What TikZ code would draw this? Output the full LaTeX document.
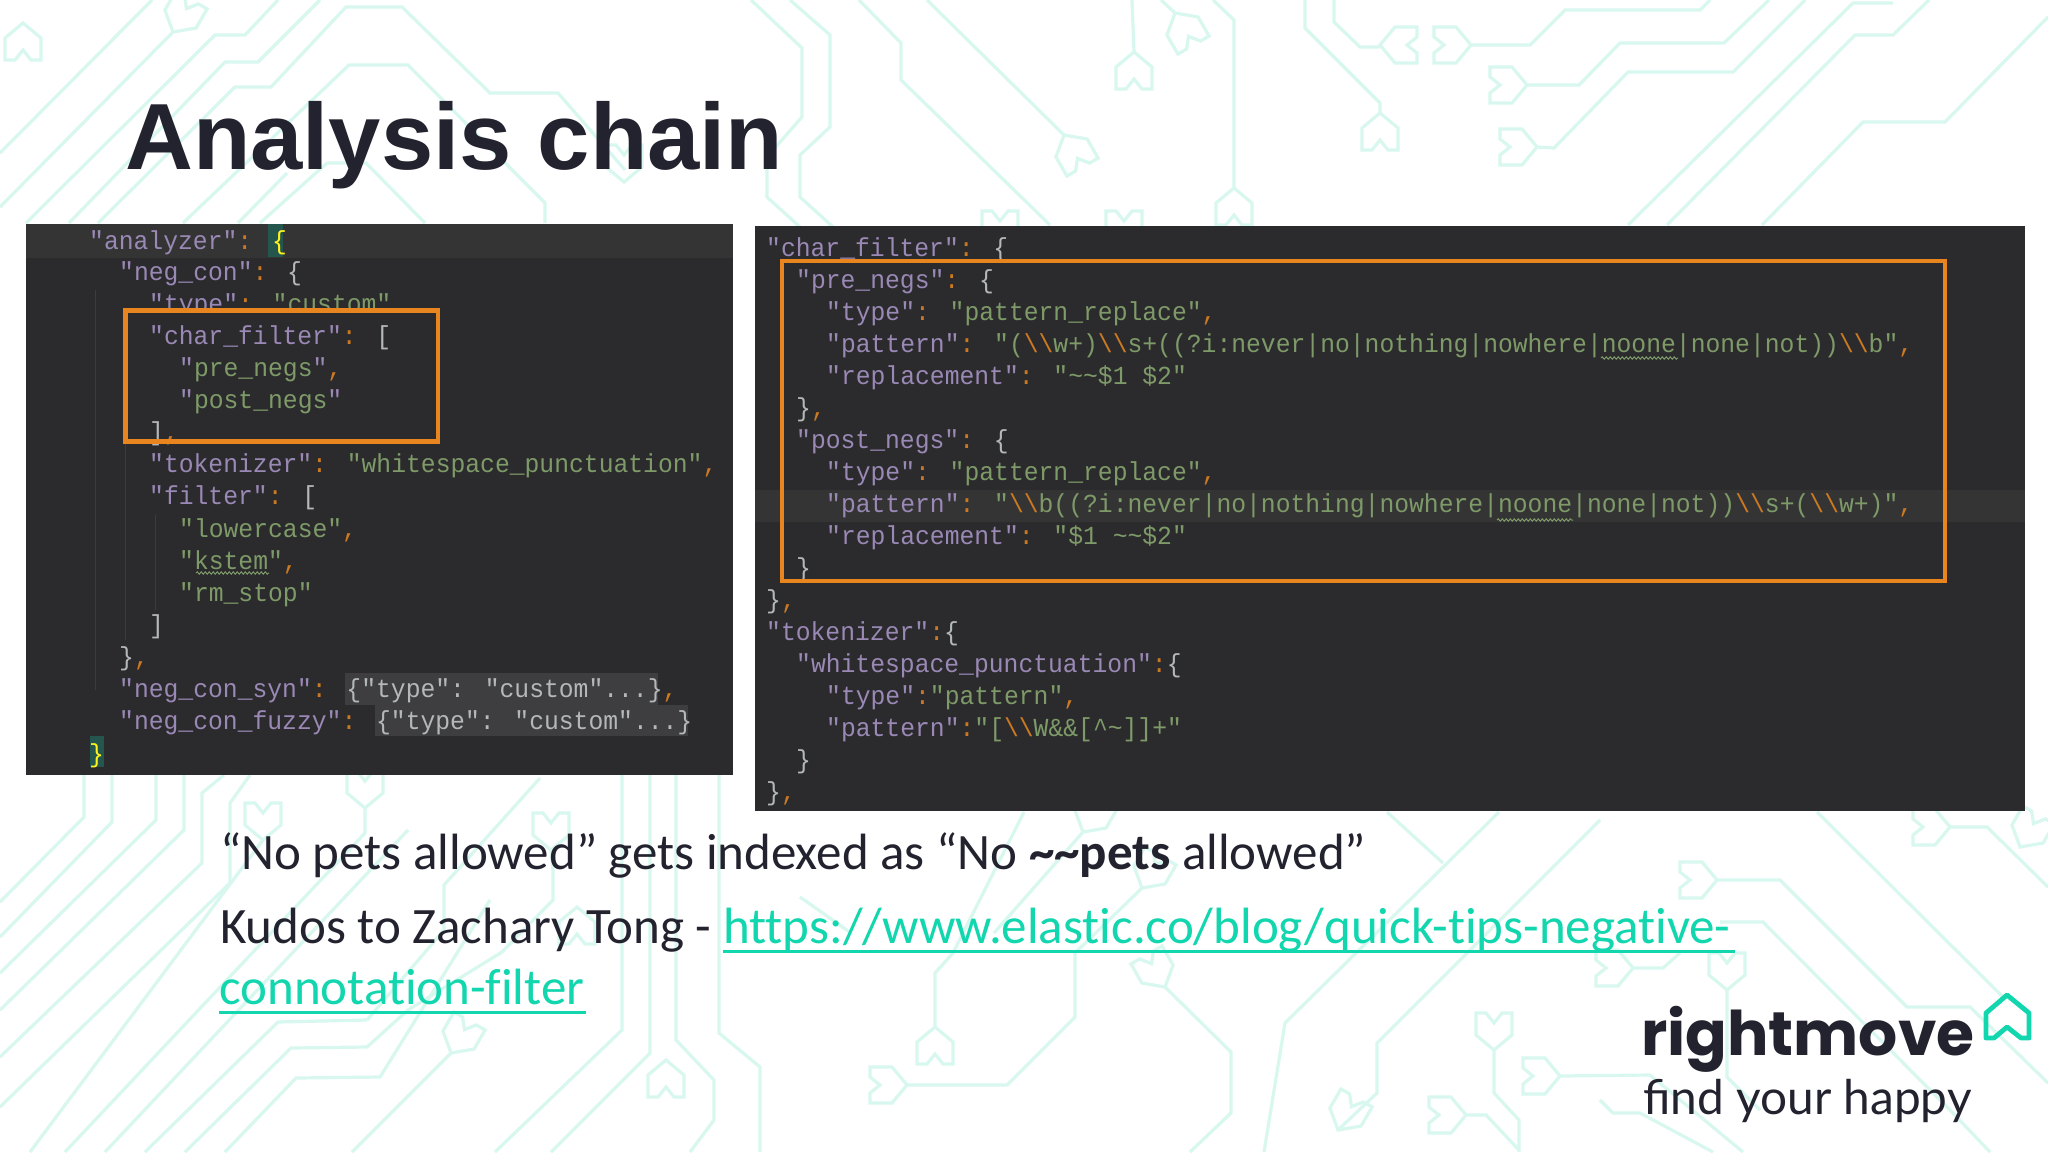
\documentclass[tikz,border=0pt]{standalone}
\usepackage{fontspec}
\usetikzlibrary{decorations.pathmorphing}
\setmainfont[Ligatures=NoCommon]{Carlito}
\newfontfamily\titlef{Liberation Sans}
\newfontfamily\codef[FakeStretch=0.95]{Liberation Mono}
\newfontfamily\logof{Poppins}
\newfontfamily\tagf{Lato}
\definecolor{ink}{HTML}{23222F}
\definecolor{mint}{HTML}{D8F8EF}
\definecolor{teal}{HTML}{12D6AE}
\definecolor{panel}{HTML}{2B2B2D}
\definecolor{keyc}{HTML}{9A88B5}
\definecolor{strc}{HTML}{7E9A68}
\definecolor{punc}{HTML}{CC7A22}
\definecolor{brk}{HTML}{B4B8BA}
\definecolor{boxo}{HTML}{E8851F}
\newcommand{\Kk}[1]{\textcolor{keyc}{#1}}
\newcommand{\Ss}[1]{\textcolor{strc}{#1}}
\newcommand{\Pp}[1]{\textcolor{punc}{#1}}
\newcommand{\Yy}[1]{\textcolor{yellow!90!white}{#1}}
\newcommand{\bsl}{\textbackslash\textbackslash}
\newcommand{\tld}{\textasciitilde}
\tikzset{
  bgline/.style={draw=mint,line width=3.2pt,line join=miter},
  codeln/.style={anchor=base west,inner sep=0pt,text=brk,font=\codef\fontsize{26}{26}\selectfont},
  orangebox/.style={draw=boxo,line width=4.5pt},
  body/.style={anchor=base west,inner sep=0pt,text=ink,font=\fontsize{51}{51}\selectfont},
  linkt/.style={body,text=teal},
  squig/.style={draw=strc,line width=1pt,decorate,decoration={snake,segment length=4pt,amplitude=1.2pt}},
  guide/.style={draw=white!8!panel,line width=1pt},
}
\begin{document}
\begin{tikzpicture}[x=1pt,y=-1pt]
\useasboundingbox (0,0) rectangle (2048,1152);
\fill[white] (0,0) rectangle (2048,1152);
% background circuit
\begin{scope}
\clip (0,0) rectangle (2048,1152);
\foreach \p in {
 {(152,0)--(0,153)}, {(173,32)--(0,207)},
 {(278,0)--(245,35)--(215,35)--(26,223)},
 {(320,0)--(258,62)--(225,62)--(69,223)},
 {(625,170)--(558,93)--(490,93)--(402,7)--(346,7)--(271,87)--(235,87)--(98,223)},
 {(545,223)--(545,203)--(408,65)--(349,65)--(183,223)},
 {(287,173)--(238,223)}, {(327,163)--(366,163)--(425,223)}, {(327,163)--(260,223)},
 {(751,0)--(802,48)--(802,117)--(767,157)--(767,197)--(800,227)},
 {(790,0)--(830,35)--(830,127)--(800,155)--(800,197)--(833,227)},
 {(859,0)--(901,43)--(901,80)--(1050,225)},
 {(927,0)--(1064,135)},
 {(1132,0)--(1134,52)}, {(1161,0)--(1175,13)},
 {(1213,0)--(1234,20)--(1234,188)},
 {(1305,0)--(1305,28)--(1380,103)--(1380,113)},
 {(1334,0)--(1334,22)--(1360,47)--(1380,47)},
 {(1471,45)--(1530,45)--(1565,10)--(1700,10)--(1710,0)},
 {(1527,85)--(1579,85)--(1620,43)--(1724,43)--(1769,0)},
 {(1537,147)--(1554,148)--(1628,72)--(1733,72)--(1805,0)},
 {(1628,225)--(1853,3)--(1893,3)},
 {(1667,225)--(1855,35)--(1893,35)--(1929,0)},
 {(1762,225)--(1863,122)--(1945,122)--(2048,17)},
 {(84,775)--(84,817)--(0,902)}, {(112,775)--(112,822)--(0,937)},
 {(156,775)--(156,820)--(0,973)}, {(184,775)--(184,830)--(0,1010)},
 {(224,775)--(202,793)--(202,863)--(0,1057)},
 {(250,775)--(230,803)--(230,883)--(0,1107)},
 {(263,840)--(30,1152)}, {(365,808)--(365,833)--(65,1152)},
 {(408,830)--(105,1152)},
 {(367,1020)--(278,1022)--(145,1152)},
 {(408,1010)--(367,1047)--(291,1048)--(185,1152)},
 {(490,900)--(380,1077)--(296,1078)--(225,1152)},
 {(540,778)--(444,885)--(444,930)--(367,1020)},
 {(551,850)--(553,870)--(553,900)--(502,952)--(408,1010)},
 {(352,1152)--(451,1053)},
 {(622,775)--(622,1030)--(495,1152)}, {(650,775)--(650,1053)--(551,1152)},
 {(676,775)--(676,1040)--(714,1080)--(714,1120)--(690,1152)},
 {(719,775)--(719,1033)--(760,1067)--(760,1152)},
 {(1024,812)--(953,953)--(935,973)--(935,1027)},
 {(907,1085)--(1007,1085)--(1075,1017)--(1075,953)--(1142,888)},
 {(1165,987)--(1231,1052)--(1231,1113)--(1190,1152)},
 {(1083,832)--(994,933)}, {(800,897)--(851,933)},
 {(1499,812)--(1285,1023)--(1264,1152)}, {(1387,812)--(1443,863)},
 {(1600,820)--(1377,1043)--(1377,1093)--(1338,1130)},
 {(1494,1050)--(1494,1093)--(1519,1120)--(1519,1152)},
 {(1560,1076)--(1650,1075)--(1743,1152)},
 {(1466,1115)--(1486,1115)--(1519,1150)},
 {(1717,880)--(1780,880)--(1907,1007)--(1970,1007)--(2048,1083)},
 {(1817,812)--(2003,997)},
 {(1720,922)--(1763,922)--(1950,1110)--(1990,1152)},
 {(1950,827)--(1987,827)--(2048,887)},
 {(1727,990)--(1727,1077)--(1760,1110)},
 {(1633,968)--(1663,968)--(1680,953)},
 {(1600,1100)--(1613,1113)--(1640,1113)--(1713,1152)}
 }{\path[bgline] \p;}
\foreach \x/\y/\a in {23/23/0,1134/52/0,1234/188/0,1380/113/0,1380/45/90,1471/45/-90,1527/85/-90,1537/147/-90,
 1175/13/30,1064/135/30,173/32/150,624/182/180,1000/248/180,1124/248/180,
 263/840/180,365/808/180,551/850/180,577/907/0,666/1060/0,935/1027/0,907/1085/-90,451/1053/150,1165/987/210,1142/888/150,1083/832/150,
 1494/1050/180,1560/1076/-90,1466/1115/-90,1338/1130/150,1717/880/-90,1950/827/-90,1727/990/180,1633/968/-90,2020/847/150}
 {\path[bgline,shift={(\x,\y)},rotate=\a] (0,0)--(18,15)--(18,37)--(8,37)--(0,27)--(-8,37)--(-18,37)--(-18,15)--cycle;}
\end{scope}
% title
\node[anchor=base west,inner sep=0pt,text=ink,font=\titlef\bfseries\fontsize{94}{94}\selectfont] (title) at (125,169) {Analysis chain};
% left panel
\fill[panel] (26,224) rectangle (733,775);
\fill[white!4!panel] (26,224) rectangle (733,258);
\fill[white!9!panel] (345,673) rectangle (658,705);
\fill[white!9!panel] (375,705) rectangle (688,736);
\fill[fill=teal!25!panel] (268,224) rectangle (283,257);
\fill[fill=teal!25!panel] (90,736) rectangle (104,767);
\draw[guide] (95,290)--(95,690); \draw[guide] (125,315)--(125,640);
\draw[guide] (155,350)--(155,440); \draw[guide] (155,515)--(155,610);
\node[codeln] (ltype) at (149,312) {\Kk{"type"}\Pp{:} \Ss{"custom"}\Pp{,}};
\draw[orangebox,fill=panel] (125.5,310.5) rectangle (438,441.5);
\node[codeln] (l1) at (89,249) {\Kk{"analyzer"}\Pp{:} \Yy{\{}};
\node[codeln] (l2) at (119,280.5) {\Kk{"neg\_con"}\Pp{:} \{};
\node[codeln] (l4) at (149,344.5) {\Kk{"char\_filter"}\Pp{:} [};
\node[codeln] (l5) at (179,376.5) {\Kk{"}\Ss{pre\_negs}\Kk{"}\Pp{,}};
\node[codeln] (l6) at (179,408.5) {\Kk{"}\Ss{post\_negs}\Kk{"}};
\node[codeln] (l7) at (149,440.5) {]\Pp{,}};
\node[codeln] (l8) at (149,472.5) {\Kk{"tokenizer"}\Pp{:} \Ss{"whitespace\_punctuation"}\Pp{,}};
\node[codeln] (l9) at (149,504.5) {\Kk{"filter"}\Pp{:} [};
\node[codeln] (l10) at (179,537) {\Ss{"lowercase"}\Pp{,}};
\node[codeln] (l11) at (179,569) {\Ss{"kstem"}\Pp{,}};
\node[codeln] (l12) at (179,601) {\Ss{"rm\_stop"}};
\node[codeln] (l13) at (149,633) {]};
\node[codeln] (l14) at (119,665) {\}\Pp{,}};
\node[codeln] (l15) at (119,697) {\Kk{"neg\_con\_syn"}\Pp{:} \{"type": "custom"...\}\Pp{,}};
\node[codeln] (l16) at (119,729.5) {\Kk{"neg\_con\_fuzzy"}\Pp{:} \{"type": "custom"...\}};
\node[codeln] (l17) at (89,762) {\Yy{\}}};
\path[squig] (196,573)--(269,573);
\draw[boxo,line width=4.5pt] (125.5,310.5) rectangle (438,441.5);
% right panel
\fill[panel] (755,226) rectangle (2025,811);
\fill[white!4!panel] (755,490) rectangle (2025,522);
\node[codeln] (r1) at (766,256) {\Kk{"char\_filter"}\Pp{:} \{};
\node[codeln] (r2) at (796,288) {\Kk{"pre\_negs"}\Pp{:} \{};
\node[codeln] (r3) at (826,320) {\Kk{"type"}\Pp{:} \Ss{"pattern\_replace"}\Pp{,}};
\node[codeln] (r4) at (826,352) {\Kk{"pattern"}\Pp{:} \Ss{"(\Pp{\bsl}w+)\Pp{\bsl}s+((?i:never|no|nothing|nowhere|noone|none|not))\Pp{\bsl}b"}\Pp{,}};
\node[codeln] (r5) at (826,384) {\Kk{"replacement"}\Pp{:} \Ss{"\tld\tld\$1 \$2"}};
\node[codeln] (r6) at (796,416) {\}\Pp{,}};
\node[codeln] (r7) at (796,448) {\Kk{"post\_negs"}\Pp{:} \{};
\node[codeln] (r8) at (826,480) {\Kk{"type"}\Pp{:} \Ss{"pattern\_replace"}\Pp{,}};
\node[codeln] (r9) at (826,512) {\Kk{"pattern"}\Pp{:} \Ss{"\Pp{\bsl}b((?i:never|no|nothing|nowhere|noone|none|not))\Pp{\bsl}s+(\Pp{\bsl}w+)"}\Pp{,}};
\node[codeln] (r10) at (826,544) {\Kk{"replacement"}\Pp{:} \Ss{"\$1 \tld\tld\$2"}};
\node[codeln] (r11) at (796,576) {\}};
\node[codeln] (r12) at (766,608) {\}\Pp{,}};
\node[codeln] (r13) at (766,640) {\Kk{"tokenizer"}\Pp{:}\{};
\node[codeln] (r14) at (796,672) {\Kk{"whitespace\_punctuation"}\Pp{:}\{};
\node[codeln] (r15) at (826,704) {\Kk{"type"}\Pp{:}\Ss{"pattern"}\Pp{,}};
\node[codeln] (r16) at (826,736) {\Kk{"pattern"}\Pp{:}\Ss{"[\Pp{\bsl}W\&\&[\textasciicircum\tld]]+"}};
\node[codeln] (r17) at (796,768) {\}};
\node[codeln] (r18) at (766,800) {\}\Pp{,}};
\path[squig] (1601,358)--(1678,358);
\path[squig] (1497,520)--(1573,520);
\draw[orangebox] (782,261) rectangle (1945,581);
% body text
\node[body] (b1) at (220,869) {“No pets allowed” gets indexed as “No \textbf{\textasciitilde\textasciitilde pets} allowed”};
\node[body] (b2) at (220,943) {Kudos to Zachary Tong -};
\node[linkt] (b3) at (723,943) {https://www.elastic.co/blog/quick-tips-negative-};
\node[linkt] (b4) at (219,1004) {connotation-filter};
\draw[teal,line width=3pt] (b3.base west)++(0,8) -- ++(1012,0);
\draw[teal,line width=3pt] (b4.base west)++(0,8) -- ++(367,0);
% logo
\node[anchor=base west,inner sep=0pt,text=ink,font=\logof\bfseries\fontsize{61.5}{62}\selectfont] (logo) at (1641,1055) {rightmove};
\node[anchor=base west,inner sep=0pt,text=ink,font=\tagf\fontsize{47.8}{48}\selectfont] (tag) at (1643,1114) {find your happy};
\draw[draw=teal,line width=4.8pt,line join=round] (1986,1038)--(1986,1013)--(2007,995)--(2029,1013)--(2029,1038)--(2021,1038)--(2007,1027)--(1994,1038)--cycle;
\end{tikzpicture}
\end{document}
